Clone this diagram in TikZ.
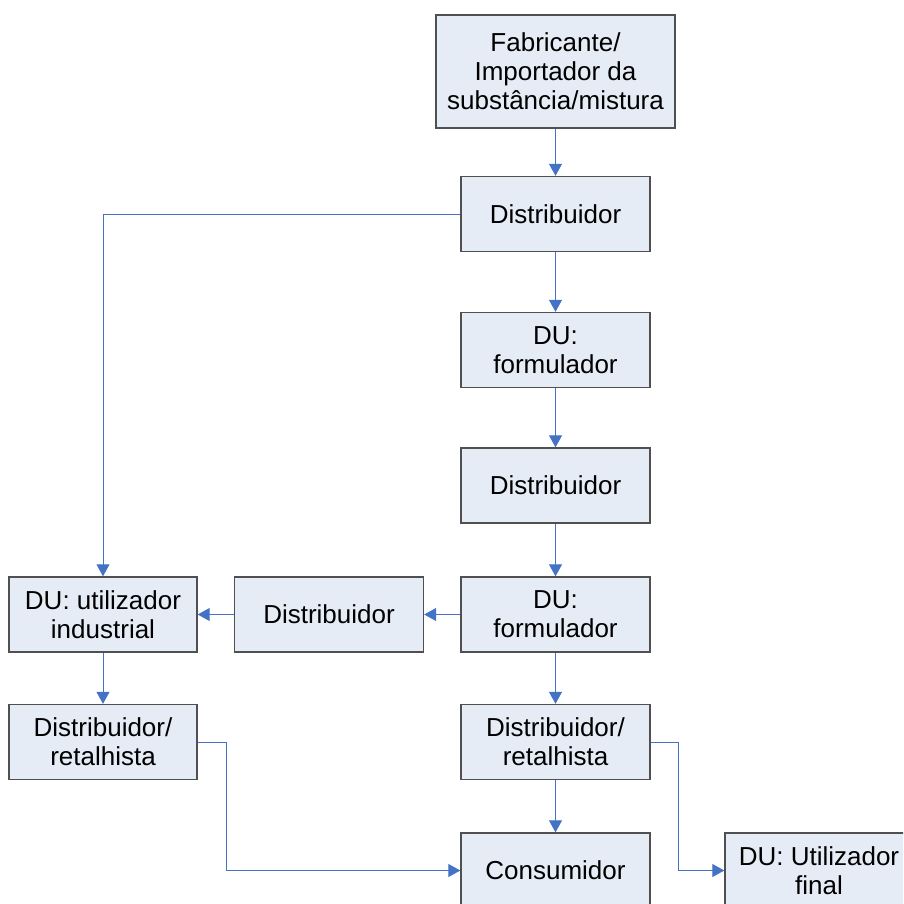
\documentclass[tikz,border=0pt]{standalone}
\usepackage{fontspec}
\setmainfont{Liberation Sans}
\usetikzlibrary{arrows.meta}
\definecolor{boxfill}{RGB}{230,236,246}
\definecolor{boxline}{RGB}{80,80,80}
\definecolor{linkblue}{RGB}{68,114,196}
\begin{document}
\begin{tikzpicture}[x=1pt,y=-1pt,
  box/.style={draw=boxline, line width=1.4pt, fill=boxfill, rectangle,
    minimum width=189pt, minimum height=75pt, inner sep=0pt,
    align=center, font=\fontsize{26}{29}\selectfont},
  link/.style={draw=linkblue, line width=1pt, -{Triangle[width=13pt,length=12pt]}}]
\useasboundingbox (0,0) rectangle (903,904);
\fill[white] (0,0) rectangle (903,904);
\clip (0,0) rectangle (903,904);
\node[box, minimum width=239pt, minimum height=113pt] (fab) at (555.5,71.5) {Fabricante/\\Importador da\\substância/mistura};
\node[box] (d1) at (555.5,214) {Distribuidor};
\node[box] (f1) at (555.5,350) {DU:\\formulador};
\node[box] (d2) at (555.5,485.5) {Distribuidor};
\node[box] (f2) at (555.5,614.5) {DU:\\formulador};
\node[box] (dm) at (329,614.5) {Distribuidor};
\node[box, minimum width=188pt] (ui) at (103,614.5) {DU: utilizador\\industrial};
\node[box, minimum width=188pt] (rl) at (103,742) {Distribuidor/\\retalhista};
\node[box] (rr) at (555.5,742) {Distribuidor/\\retalhista};
\node[box] (con) at (555.5,870.5) {Consumidor};
\node[box, minimum width=188pt] (uf) at (819,870.5) {DU: Utilizador\\final};
\coordinate (cl) at (226,742);
\coordinate (cr) at (678,742);
\draw[link] (fab.south) -- (d1.north);
\draw[link] (d1.west) -| (ui.north);
\draw[link] (d1.south) -- (f1.north);
\draw[link] (f1.south) -- (d2.north);
\draw[link] (d2.south) -- (f2.north);
\draw[link] (f2.west) -- (dm.east);
\draw[link] (dm.west) -- (ui.east);
\draw[link] (ui.south) -- (rl.north);
\draw[link] (f2.south) -- (rr.north);
\draw[link] (rr.south) -- (con.north);
\draw[link] (rl.east) -- (cl) |- (con.west);
\draw[link] (rr.east) -- (cr) |- (uf.west);
\end{tikzpicture}
\end{document}
